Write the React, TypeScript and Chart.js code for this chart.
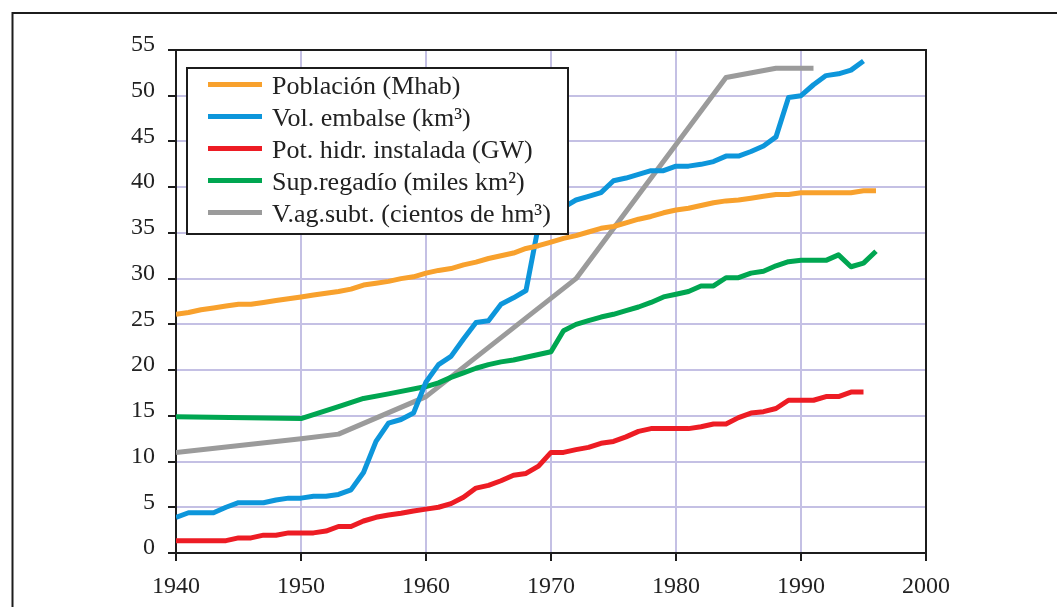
import React, { useEffect, useRef } from "react";
import { Chart, registerables } from "chart.js";

Chart.register(...registerables);

// ---- Data ----
const annualYears = [
  1940, 1941, 1942, 1943, 1944, 1945, 1946, 1947, 1948, 1949,
  1950, 1951, 1952, 1953, 1954, 1955, 1956, 1957, 1958, 1959,
  1960, 1961, 1962, 1963, 1964, 1965, 1966, 1967, 1968, 1969,
  1970, 1971, 1972, 1973, 1974, 1975, 1976, 1977, 1978, 1979,
  1980, 1981, 1982, 1983, 1984, 1985, 1986, 1987, 1988, 1989,
  1990, 1991, 1992, 1993, 1994, 1995, 1996,
];

const poblacion = [
  26.1, 26.3, 26.6, 26.8, 27.0, 27.2, 27.2, 27.4, 27.6, 27.8,
  28.0, 28.2, 28.4, 28.6, 28.85, 29.3, 29.5, 29.7, 30.0, 30.2,
  30.6, 30.9, 31.1, 31.5, 31.8, 32.2, 32.5, 32.8, 33.3, 33.6,
  34.0, 34.4, 34.7, 35.1, 35.5, 35.7, 36.1, 36.5, 36.8, 37.2,
  37.5, 37.7, 38.0, 38.3, 38.5, 38.6, 38.8, 39.0, 39.2, 39.2,
  39.4, 39.4, 39.4, 39.4, 39.4, 39.6, 39.6,
];

const volEmbalse = [
  3.9, 4.4, 4.4, 4.4, 5.0, 5.5, 5.5, 5.5, 5.8, 6.0,
  6.0, 6.2, 6.2, 6.4, 6.9, 8.8, 12.2, 14.2, 14.6, 15.3,
  18.7, 20.6, 21.5, 23.4, 25.2, 25.4, 27.2, 27.9, 28.7, 35.8,
  37.2, 37.8, 38.6, 39.0, 39.4, 40.7, 41.0, 41.4, 41.8, 41.8,
  42.3, 42.3, 42.5, 42.8, 43.4, 43.4, 43.9, 44.5, 45.5, 49.8,
  50.0, 51.2, 52.2, 52.4, 52.8, 53.8,
];

const potHidr = [
  1.35, 1.35, 1.35, 1.35, 1.35, 1.65, 1.65, 1.95, 1.95, 2.2,
  2.2, 2.2, 2.4, 2.9, 2.9, 3.5, 3.9, 4.15, 4.35, 4.6,
  4.8, 5.0, 5.4, 6.1, 7.1, 7.4, 7.9, 8.5, 8.7, 9.5,
  11.0, 11.0, 11.3, 11.55, 12.0, 12.2, 12.7, 13.3, 13.6, 13.6,
  13.6, 13.6, 13.8, 14.1, 14.1, 14.8, 15.3, 15.45, 15.8, 16.7,
  16.7, 16.7, 17.1, 17.1, 17.6, 17.6,
];

const regadioYears = [
  1940, 1950, 1953, 1955, 1957, 1960, 1961, 1962, 1963, 1964,
  1965, 1966, 1967, 1968, 1969, 1970, 1971, 1972, 1973, 1974,
  1975, 1976, 1977, 1978, 1979, 1980, 1981, 1982, 1983, 1984,
  1985, 1986, 1987, 1988, 1989, 1990, 1991, 1992, 1993, 1994,
  1995, 1996,
];
const regadio = [
  14.9, 14.7, 16.0, 16.9, 17.4, 18.2, 18.6, 19.2, 19.7, 20.2,
  20.6, 20.9, 21.1, 21.4, 21.7, 22.0, 24.3, 25.0, 25.4, 25.8,
  26.1, 26.5, 26.9, 27.4, 28.0, 28.3, 28.6, 29.2, 29.2, 30.1,
  30.1, 30.6, 30.8, 31.4, 31.85, 32.0, 32.0, 32.0, 32.6, 31.3,
  31.7, 33.0,
];

const aguaSubtYears = [1940, 1950, 1953, 1960, 1972, 1984, 1988, 1991];
const aguaSubt = [11.0, 12.5, 13.0, 17.1, 30.0, 52.0, 53.0, 53.0];

const seriesLabels = [
  "Población (Mhab)",
  "Vol. embalse (km³)",
  "Pot. hidr. instalada (GW)",
  "Sup.regadío (miles km²)",
  "V.ag.subt. (cientos de hm³)",
];
const seriesColors = ["#F8A12D", "#0D96DB", "#ED1C24", "#00A651", "#9B9B9B"];

const xTicks = [1940, 1950, 1960, 1970, 1980, 1990, 2000];
const yTicks = [0, 5, 10, 15, 20, 25, 30, 35, 40, 45, 50, 55];

const pts = (xs: number[], ys: number[]) => ys.map((y, i) => ({ x: xs[i], y }));

const FONT = "'Liberation Serif', 'Times New Roman', serif";
const W = 1057;
const H = 607;

const decoPlugin = {
  id: "deco",
  beforeDraw(chart: any) {
    const ctx = chart.ctx;
    ctx.save();
    ctx.fillStyle = "#ffffff";
    ctx.fillRect(0, 0, chart.width, chart.height);
    ctx.strokeStyle = "#1c1c1c";
    ctx.lineWidth = 2;
    ctx.beginPath();
    ctx.moveTo(12.5, chart.height);
    ctx.lineTo(12.5, 13);
    ctx.lineTo(chart.width, 13);
    ctx.stroke();
    ctx.restore();
  },
  beforeDatasetsDraw(chart: any) {
    const { ctx, chartArea } = chart;
    ctx.save();
    ctx.strokeStyle = "#1c1c1c";
    ctx.lineWidth = 2;
    ctx.strokeRect(chartArea.left, chartArea.top, chartArea.right - chartArea.left, chartArea.bottom - chartArea.top);
    ctx.restore();
  },
  afterDatasetsDraw(chart: any) {
    const ctx = chart.ctx;
    const bx = 187, by = 68, bw = 381, bh = 166;
    ctx.save();
    ctx.fillStyle = "#ffffff";
    ctx.fillRect(bx, by, bw, bh);
    ctx.strokeStyle = "#1c1c1c";
    ctx.lineWidth = 2;
    ctx.strokeRect(bx, by, bw, bh);
    chart.data.datasets.forEach((ds: any, i: number) => {
      const rowY = 84.5 + i * 32;
      ctx.strokeStyle = ds.borderColor;
      ctx.lineWidth = 5;
      ctx.beginPath();
      ctx.moveTo(208, rowY);
      ctx.lineTo(262, rowY);
      ctx.stroke();
      ctx.fillStyle = "#222222";
      ctx.font = `26px ${FONT}`;
      ctx.textBaseline = "alphabetic";
      ctx.textAlign = "left";
      ctx.fillText(ds.label, 272, rowY + 9.5);
    });
    ctx.restore();
  },
};

export default function App() {
  const canvasRef = useRef<HTMLCanvasElement | null>(null);

  useEffect(() => {
    document.body.style.margin = "0";
    const canvas = canvasRef.current;
    if (!canvas) return;
    const seriesData = [
      pts(annualYears, poblacion),
      pts(annualYears, volEmbalse),
      pts(annualYears, potHidr),
      pts(regadioYears, regadio),
      pts(aguaSubtYears, aguaSubt),
    ];
    const chart = new Chart(canvas, {
      type: "line",
      data: {
        datasets: seriesData.map((d, i) => ({
          label: seriesLabels[i],
          data: d,
          borderColor: seriesColors[i],
          backgroundColor: seriesColors[i],
          borderWidth: 5,
          pointRadius: 0,
          tension: 0,
          fill: false,
          borderJoinStyle: "round" as const,
        })),
      },
      options: {
        animation: false,
        responsive: false,
        maintainAspectRatio: false,
        layout: { padding: { left: 0, right: 131, top: 50, bottom: 0 } },
        plugins: {
          legend: { display: false },
          tooltip: { enabled: false },
        },
        scales: {
          x: {
            type: "linear",
            min: 1940,
            max: 2000,
            afterFit: (s: any) => { s.height = 54; },
            afterBuildTicks: (s: any) => { s.ticks = xTicks.map((v) => ({ value: v })); },
            ticks: {
              callback: (v: any) => String(v),
              font: { family: FONT, size: 24 },
              color: "#222222",
              padding: 11,
              maxRotation: 0,
              autoSkip: false,
            },
            grid: {
              color: "#C4C0E4",
              lineWidth: 2,
              tickColor: "#1c1c1c",
              tickWidth: 2,
              tickLength: 8,
            },
            border: { color: "#1c1c1c", width: 2 },
          },
          y: {
            min: 0,
            max: 55,
            afterFit: (s: any) => { s.width = 176; },
            afterBuildTicks: (s: any) => { s.ticks = yTicks.map((v) => ({ value: v })); },
            ticks: {
              font: { family: FONT, size: 24 },
              color: "#222222",
              padding: 13,
              labelOffset: -5,
              autoSkip: false,
            },
            grid: {
              color: "#C4C0E4",
              lineWidth: 2,
              tickColor: "#1c1c1c",
              tickWidth: 2,
              tickLength: 8,
            },
            border: { color: "#1c1c1c", width: 2 },
          },
        },
      },
      plugins: [decoPlugin],
    });
    return () => chart.destroy();
  }, []);

  return (
    <div style={{ width: W, height: H, position: "relative", overflow: "hidden" }}>
      <canvas ref={canvasRef} width={W} height={H} style={{ display: "block", width: W, height: H }} />
    </div>
  );
}
